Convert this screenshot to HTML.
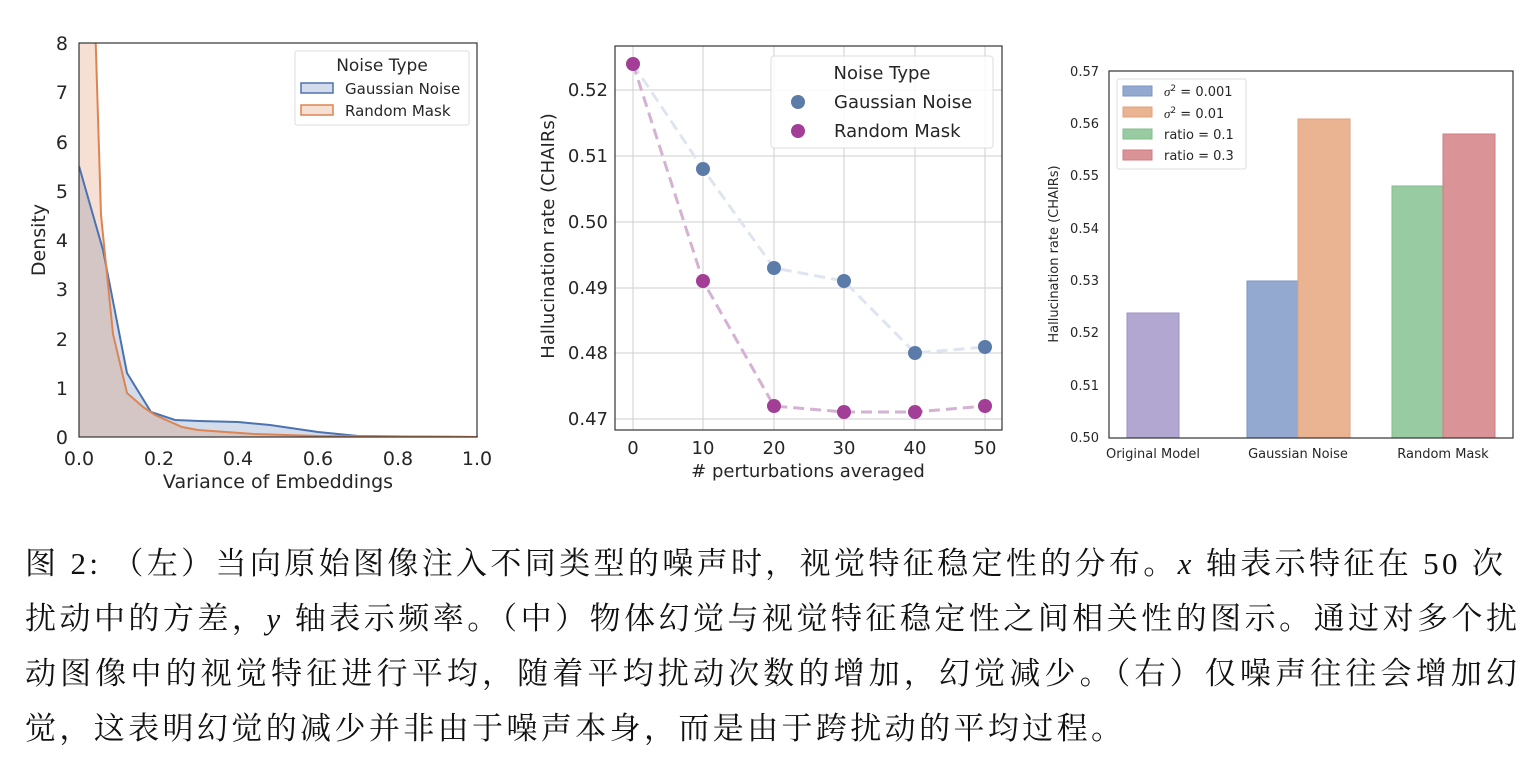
<!DOCTYPE html>
<html><head><meta charset="utf-8"><style>
html,body{margin:0;padding:0;background:#fff;}
svg{display:block;}
.t{font-family:"DejaVu Sans","Liberation Sans",sans-serif;fill:#262626;}
.c{font-family:"Liberation Serif","Noto Serif CJK SC",serif;fill:#111;font-size:31px;}
</style></head><body>
<svg width="1538" height="766" viewBox="0 0 1538 766" xmlns="http://www.w3.org/2000/svg">
<defs><clipPath id="cl"><rect x="79" y="43" width="399" height="394"/></clipPath></defs>
<g clip-path="url(#cl)">
<path d="M79,166 L103,250 L127,373 L151,412 L175,420 L199,421 L238,422 L270,425 L318,432 L358,436 L478,437 L79,437Z" fill="#4c72b0" fill-opacity="0.25"/>
<path d="M79,0 L95,20 L101,215 L113,334 L127,393 L143,407 L155,415 L182,427 L198,430 L254,434 L318,436 L478,437 L79,437Z" fill="#dd8452" fill-opacity="0.25"/>
<path d="M79,166 L103,250 L127,373 L151,412 L175,420 L199,421 L238,422 L270,425 L318,432 L358,436 L478,437" fill="none" stroke="#4c72b0" stroke-width="2"/>
<path d="M95,20 L101,215 L113,334 L127,393 L143,407 L155,415 L182,427 L198,430 L254,434 L318,436 L478,437" fill="none" stroke="#dd8452" stroke-width="2"/>
</g>
<rect x="79" y="43" width="398" height="394" fill="none" stroke="#333" stroke-width="1.2"/>
<g class="t" font-size="19" text-anchor="end">
<text x="68" y="444">0</text><text x="68" y="395">1</text><text x="68" y="346">2</text><text x="68" y="296">3</text><text x="68" y="247">4</text><text x="68" y="198">5</text><text x="68" y="149">6</text><text x="68" y="99">7</text><text x="68" y="50">8</text>
</g>
<g class="t" font-size="19" text-anchor="middle">
<text x="79" y="465">0.0</text><text x="159" y="465">0.2</text><text x="238" y="465">0.4</text><text x="318" y="465">0.6</text><text x="398" y="465">0.8</text><text x="477" y="465">1.0</text>
<text x="278" y="488">Variance of Embeddings</text>
<text transform="translate(45,240) rotate(-90)">Density</text>
</g>
<rect x="295" y="51" width="174" height="74" fill="#fff" stroke="#ddd" rx="2"/>
<text class="t" x="382" y="71" font-size="17" text-anchor="middle">Noise Type</text>
<rect x="301" y="83" width="32" height="10" fill="#4c72b0" fill-opacity="0.25" stroke="#4c72b0" stroke-width="1.5"/>
<rect x="301" y="105" width="32" height="10" fill="#dd8452" fill-opacity="0.25" stroke="#dd8452" stroke-width="1.5"/>
<text class="t" x="345" y="94" font-size="15">Gaussian Noise</text>
<text class="t" x="345" y="116" font-size="15">Random Mask</text>

<g stroke="#cfcfcf" stroke-width="1">
<line x1="633" y1="46" x2="633" y2="430"/><line x1="703" y1="46" x2="703" y2="430"/><line x1="774" y1="46" x2="774" y2="430"/><line x1="844" y1="46" x2="844" y2="430"/><line x1="915" y1="46" x2="915" y2="430"/><line x1="985" y1="46" x2="985" y2="430"/>
<line x1="615" y1="90" x2="1002" y2="90"/><line x1="615" y1="156" x2="1002" y2="156"/><line x1="615" y1="222" x2="1002" y2="222"/><line x1="615" y1="288" x2="1002" y2="288"/><line x1="615" y1="353" x2="1002" y2="353"/><line x1="615" y1="419" x2="1002" y2="419"/>
</g>
<polyline points="633,64 703,169 774,268 844,281 915,353 985,347" fill="none" stroke="#dfe5f0" stroke-width="3" stroke-dasharray="11,6"/>
<polyline points="633,64 703,281 774,406 844,412 915,412 985,406" fill="none" stroke="#d4b2d2" stroke-width="3" stroke-dasharray="11,6"/>
<g fill="#5b7ba8"><circle cx="703" cy="169" r="7"/><circle cx="774" cy="268" r="7"/><circle cx="844" cy="281" r="7"/><circle cx="915" cy="353" r="7"/><circle cx="985" cy="347" r="7"/></g>
<g fill="#a23e95"><circle cx="633" cy="64" r="7"/><circle cx="703" cy="281" r="7"/><circle cx="774" cy="406" r="7"/><circle cx="844" cy="412" r="7"/><circle cx="915" cy="412" r="7"/><circle cx="985" cy="406" r="7"/></g>
<rect x="615" y="46" width="387" height="384" fill="none" stroke="#333" stroke-width="1.2"/>
<g class="t" font-size="18" text-anchor="end" fill="#111">
<text x="608" y="96">0.52</text><text x="608" y="162">0.51</text><text x="608" y="228">0.50</text><text x="608" y="294">0.49</text><text x="608" y="359">0.48</text><text x="608" y="425">0.47</text>
</g>
<g class="t" font-size="18" text-anchor="middle">
<text x="633" y="454">0</text><text x="703" y="454">10</text><text x="774" y="454">20</text><text x="844" y="454">30</text><text x="915" y="454">40</text><text x="985" y="454">50</text>
<text x="808" y="477">#  perturbations averaged</text>
<text transform="translate(554,236) rotate(-90)">Hallucination rate (CHAIRs)</text>
</g>
<rect x="771" y="56" width="222" height="92" fill="#fff" fill-opacity="0.85" stroke="#ddd" rx="3"/>
<text class="t" x="882" y="79" font-size="18" text-anchor="middle">Noise Type</text>
<circle cx="798" cy="102" r="7" fill="#5b7ba8"/><circle cx="798" cy="131" r="7" fill="#a23e95"/>
<text class="t" x="834" y="108" font-size="18">Gaussian Noise</text>
<text class="t" x="834" y="137" font-size="18">Random Mask</text>

<rect x="1127" y="313" width="52" height="125" fill="#b1a7d0" stroke="#9d92c6"/>
<rect x="1247" y="281" width="51" height="157" fill="#94a9d0" stroke="#7c95c5"/>
<rect x="1298" y="119" width="52" height="319" fill="#eab493" stroke="#e0a07c"/>
<rect x="1392" y="186" width="51" height="252" fill="#98cba2" stroke="#82bd8e"/>
<rect x="1443" y="134" width="52" height="304" fill="#da9396" stroke="#d07c80"/>
<rect x="1109" y="71" width="404" height="367" fill="none" stroke="#333" stroke-width="1.2"/>
<g class="t" font-size="13" text-anchor="end">
<text x="1099" y="442">0.50</text><text x="1099" y="390">0.51</text><text x="1099" y="337">0.52</text><text x="1099" y="285">0.53</text><text x="1099" y="233">0.54</text><text x="1099" y="180">0.55</text><text x="1099" y="128">0.56</text><text x="1099" y="76">0.57</text>
</g>
<g class="t" font-size="13" text-anchor="middle">
<text x="1153" y="458">Original Model</text><text x="1298" y="458">Gaussian Noise</text><text x="1443" y="458">Random Mask</text>
<text transform="translate(1058,254) rotate(-90)">Hallucination rate (CHAIRs)</text>
</g>
<rect x="1117" y="79" width="129" height="90" fill="#fff" stroke="#ddd" rx="2"/>
<rect x="1123" y="86" width="29" height="10" fill="#94a9d0" stroke="#7c95c5"/>
<rect x="1123" y="107" width="29" height="10" fill="#eab493" stroke="#e0a07c"/>
<rect x="1123" y="129" width="29" height="10" fill="#98cba2" stroke="#82bd8e"/>
<rect x="1123" y="150" width="29" height="10" fill="#da9396" stroke="#d07c80"/>
<g class="t" font-size="13">
<text x="1164" y="96"><tspan font-style="italic" font-family="Liberation Serif">σ</tspan><tspan font-size="9" dy="-5">2</tspan><tspan dy="5"> = 0.001</tspan></text>
<text x="1164" y="118"><tspan font-style="italic" font-family="Liberation Serif">σ</tspan><tspan font-size="9" dy="-5">2</tspan><tspan dy="5"> = 0.01</tspan></text>
<text x="1164" y="139">ratio = 0.1</text>
<text x="1164" y="160">ratio = 0.3</text>
</g>

<text class="c" x="25" y="574" textLength="1478" lengthAdjust="spacing">图 2: （左）当向原始图像注入不同类型的噪声时，视觉特征稳定性的分布。<tspan font-style="italic">x</tspan> 轴表示特征在 50 次</text>
<text class="c" x="25" y="629" textLength="1492" lengthAdjust="spacing">扰动中的方差，<tspan font-style="italic">y</tspan> 轴表示频率。（中）物体幻觉与视觉特征稳定性之间相关性的图示。通过对多个扰</text>
<text class="c" x="25" y="684" textLength="1492" lengthAdjust="spacing">动图像中的视觉特征进行平均，随着平均扰动次数的增加，幻觉减少。（右）仅噪声往往会增加幻</text>
<text class="c" x="25" y="739" textLength="1097" lengthAdjust="spacing">觉，这表明幻觉的减少并非由于噪声本身，而是由于跨扰动的平均过程。</text>
</svg>
</body></html>
